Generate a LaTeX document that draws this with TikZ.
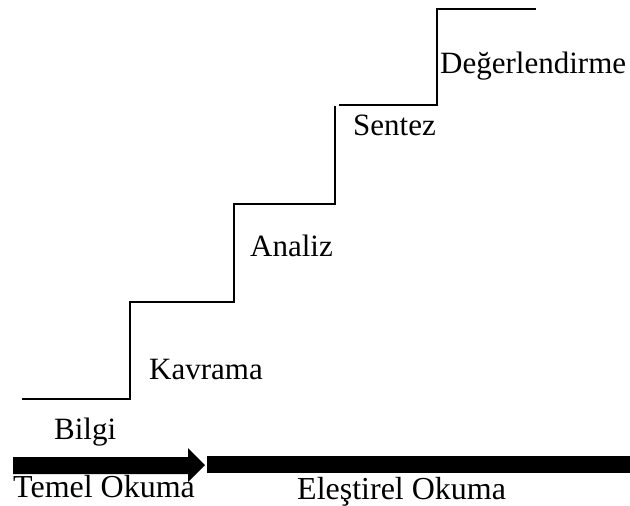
\documentclass[tikz,border=0pt]{standalone}
\usepackage{fontspec}
\setmainfont{Liberation Serif}
\begin{document}
\begin{tikzpicture}[x=1pt,y=-1pt,
  stair/.style={line width=1.3pt,line cap=rect},
  lbl/.style={anchor=base west,inner sep=0pt,font=\fontsize{31}{36}\selectfont},
  blbl/.style={anchor=base west,inner sep=0pt,font=\fontsize{32}{38}\selectfont},
  bar/.style={fill=black,draw=none}]
\useasboundingbox (0,0) rectangle (630,506);
% staircase
\draw[stair] (23,399) -- (130,399) -- (130,302) -- (234,302) -- (234,204) -- (335,204) -- (335,107);
\draw[stair] (340,105) -- (437,105) -- (437,9) -- (535,9);
% step labels
\node[lbl] (bilgi) at (54,439) {Bilgi};
\node[lbl] (kavrama) at (149,379) {Kavrama};
\node[lbl] (analiz) at (250,256) {Analiz};
\node[lbl] (sentez) at (353,135) {Sentez};
\node[lbl] (deger) at (440,73) {Değerlendirme};
% arrow and bar
\fill[bar] (13,457) -- (188,457) -- (188,448) -- (205,465) -- (188,482) -- (188,474) -- (13,474) -- cycle;
\fill[bar] (207,456) rectangle (630,473);
% bottom labels
\node[blbl] (temel) at (13,497) {Temel Okuma};
\node[blbl] (elestirel) at (297,499) {Eleştirel Okuma};
\end{tikzpicture}
\end{document}
